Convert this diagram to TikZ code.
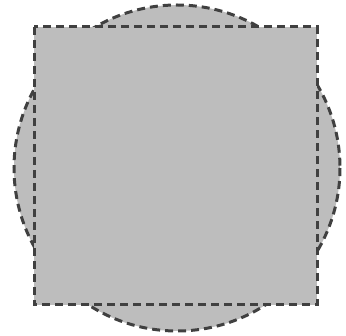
\documentclass[tikz,border=0pt]{standalone}
\usepackage{tikz}
\usetikzlibrary{positioning}

\begin{document}
\begin{tikzpicture}[x=1pt, y=-1pt]
            \useasboundingbox (0,0) rectangle (346,336);
            \filldraw[fill=gray!52, draw=black!75, line width=3pt, dash pattern=on 8pt off 5pt] (177,168) circle (163);
            \filldraw[fill=gray!52, draw=black!75, line width=3pt, dash pattern=on 8pt off 5pt] (34,27) rectangle (317,305);
        \end{tikzpicture}
\end{document}
